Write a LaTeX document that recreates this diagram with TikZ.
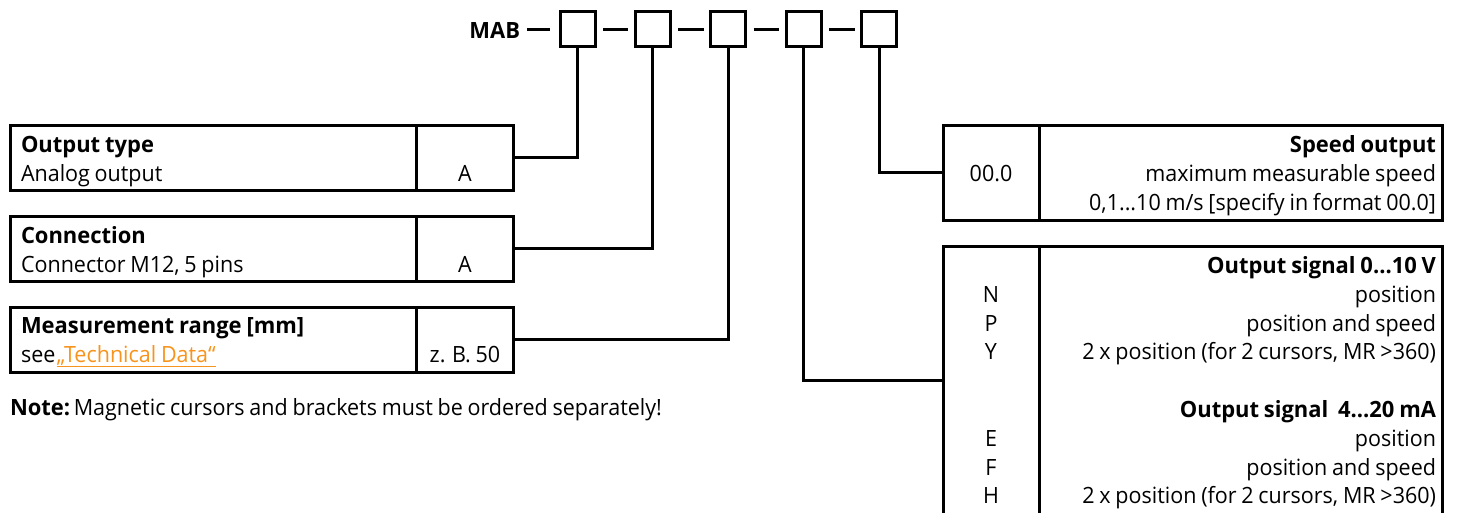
\documentclass[tikz,border=0pt]{standalone}
\usepackage{fontspec}
\setmainfont{Open Sans}[FakeStretch=0.96,WordSpace=0.85,BoldFeatures={FakeStretch=0.98}]
\definecolor{linkorange}{HTML}{F7941D}
\tikzset{
  x=1pt,y=-1pt,
  ln/.style={draw=black,line width=3pt},
  slot/.style={ln,minimum width=35pt,minimum height=35pt,inner sep=0pt,outer sep=0pt},
  cell/.style={ln,inner sep=0pt,outer sep=0pt},
  txt/.style={inner sep=0pt,outer sep=0pt,font=\fontsize{22.4}{26}\selectfont},
  tl/.style={txt,anchor=base west},
  tr/.style={txt,anchor=base east},
  tc/.style={txt,anchor=base},
}
\begin{document}
\begin{tikzpicture}
\useasboundingbox (0,0) rectangle (1457,512);
\clip (0,0) rectangle (1457,512);
% order code
\node[txt,anchor=base east,font=\fontsize{22.4}{26}\selectfont\bfseries] (mab) at (520,38) {MAB};
\foreach \n/\cx in {1/577.5,2/652.5,3/728,4/803.5,5/879}{
  \node[slot] (s\n) at (\cx,29) {};
}
\coordinate (d0a) at (527,29); \coordinate (d0b) at (550,29);
\draw[ln] (d0a) -- (d0b);
\draw[ln] ([xshift=8pt]s1.east) -- ([xshift=-7pt]s2.west);
\draw[ln] ([xshift=8pt]s2.east) -- ([xshift=-7pt]s3.west);
\draw[ln] ([xshift=8pt]s3.east) -- ([xshift=-7pt]s4.west);
\draw[ln] ([xshift=8pt]s4.east) -- ([xshift=-7pt]s5.west);
% left tables
\foreach \n/\top in {1/125,2/216,3/307}{
  \node[cell,minimum width=406pt,minimum height=65pt,anchor=north west] (l\n) at (10,\top) {};
  \node[cell,minimum width=97pt,minimum height=65pt,anchor=north west] (c\n) at (416,\top) {};
}
\node[tl] (t1a) at (21,152) {\bfseries Output type};
\node[tl] (t1b) at (21,181) {Analog output};
\node[tc] (v1) at (465,181) {A};
\node[tl] (t2a) at (21,243) {\bfseries Connection};
\node[tl] (t2b) at (21,272) {Connector M12, 5 pins};
\node[tc] (v2) at (465,272) {A};
\node[tl] (t3a) at (21,333) {\bfseries Measurement range [mm]};
\node[tl] (t3b) at (21,362) {see\kern1.5pt{\color{linkorange}\underline{„Technical Data“}}};
\node[tc] (v3) at (465,362) {z. B. 50};
\node[tl] (note) at (10,415) {\textbf{Note:} \kern-3pt Magnetic cursors and brackets must be ordered separately!};
% right tables
\node[cell,minimum width=96pt,minimum height=95pt,anchor=north west] (c5) at (943,125) {};
\node[cell,minimum width=403pt,minimum height=95pt,anchor=north west] (r5) at (1039,125) {};
\node[cell,minimum width=96pt,minimum height=268pt,anchor=north west] (c4) at (943,246) {};
\node[cell,minimum width=403pt,minimum height=268pt,anchor=north west] (r4) at (1039,246) {};
\node[tr] (r5a) at (1436,152) {\bfseries Speed output};
\node[tr] (r5b) at (1436,181) {maximum measurable speed};
\node[tr] (r5c) at (1436,210) {0,1...10 m/s [specify in format 00.0]};
\node[tc] (v5) at (991,181) {00.0};
\node[tr] (h1) at (1436,273) {\bfseries Output signal 0...10 V};
\node[tr] (a1) at (1436,302) {position};
\node[tr] (a2) at (1436,331) {position and speed};
\node[tr] (a3) at (1436,359) {2 x position (for 2 cursors, MR >360)};
\node[tr] (h2) at (1436,417) {\bfseries Output signal\ \ 4...20 mA};
\node[tr] (b1) at (1436,446) {position};
\node[tr] (b2) at (1436,475) {position and speed};
\node[tr] (b3) at (1436,503) {2 x position (for 2 cursors, MR >360)};
\node[tc] (kn) at (991,302) {N};
\node[tc] (kp) at (991,331) {P};
\node[tc] (ky) at (991,359) {Y};
\node[tc] (ke) at (991,446) {E};
\node[tc] (kf) at (991,475) {F};
\node[tc] (kh) at (991,503) {H};
% connectors
\draw[ln] (s1.south) |- (c1.east);
\draw[ln] (s2.south) |- (c2.east);
\draw[ln] (s3.south) |- (c3.east);
\draw[ln] (s4.south) |- (c4.west);
\draw[ln] (s5.south) |- (c5.west);
\end{tikzpicture}
\end{document}
